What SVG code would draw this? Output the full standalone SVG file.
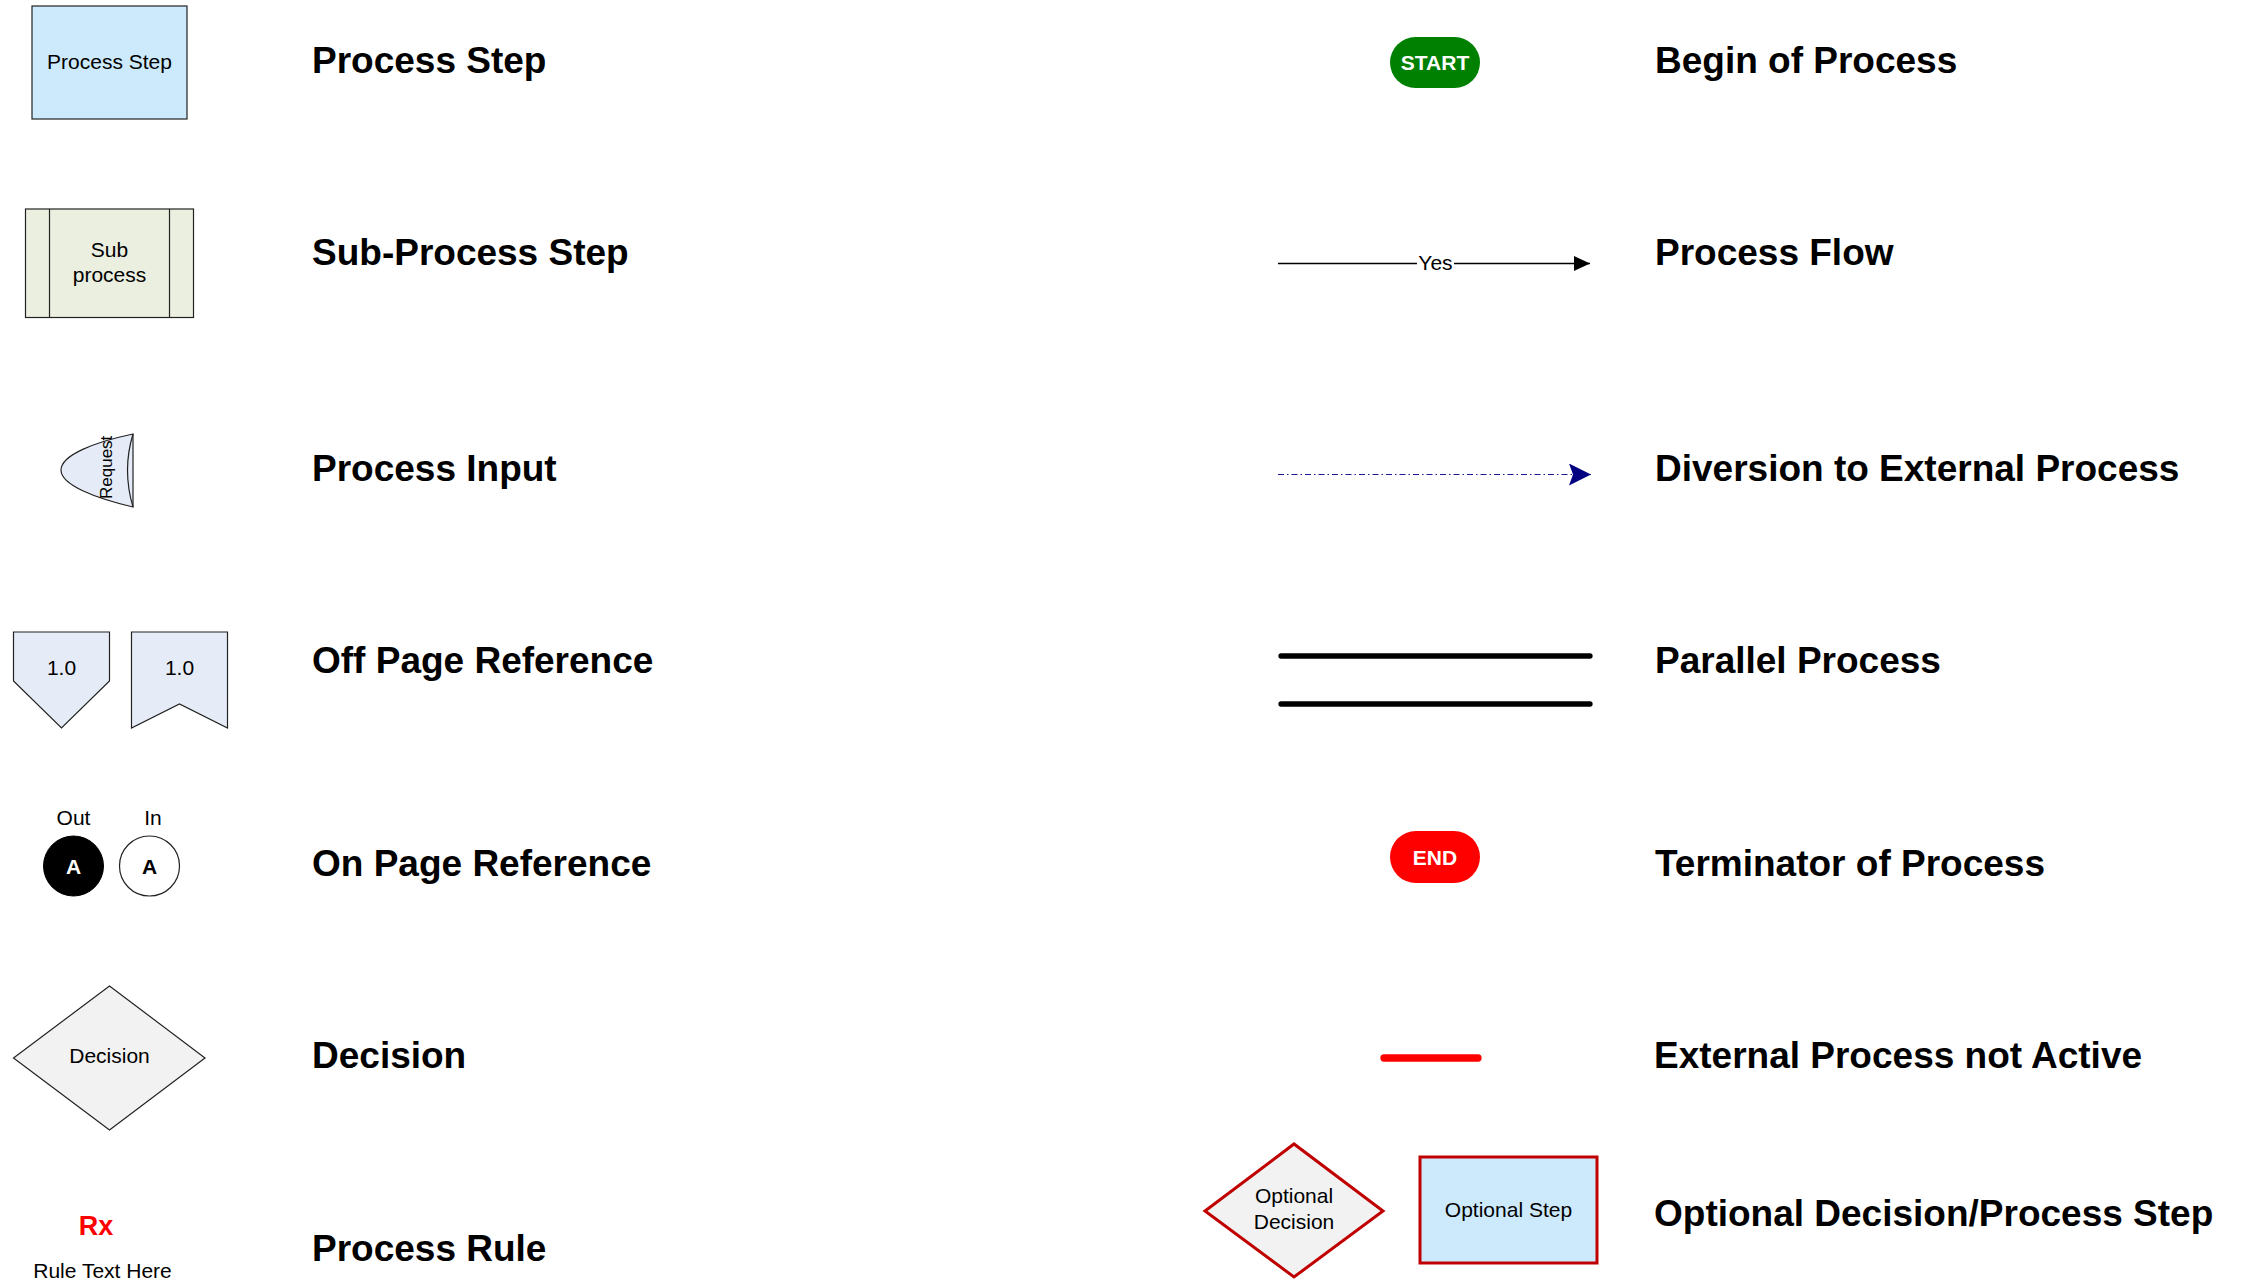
<svg xmlns="http://www.w3.org/2000/svg" width="2245" height="1280" viewBox="0 0 2245 1280">
<style>
  text { font-family: "Liberation Sans", Arial, sans-serif; fill: #000; }
  .h { font-size: 37px; font-weight: bold; }
  .s { font-size: 21px; text-anchor: middle; }
  .b { font-size: 21px; font-weight: bold; text-anchor: middle; }
  .w { fill: #fff; }
  .step { fill: #cdeafc; stroke: #222; stroke-width: 1.2; }
  .sub { fill: #ebefdf; stroke: #222; stroke-width: 1.2; }
  .ref { fill: #e6ecf7; stroke: #222; stroke-width: 1.2; }
  .dec { fill: #f2f2f2; stroke: #222; stroke-width: 1.2; }
  .opt { stroke: #c00000; stroke-width: 3; }
</style>
<defs>
  <marker id="arrBlack" viewBox="0 0 16 16" refX="16" refY="8" markerWidth="16" markerHeight="16" markerUnits="userSpaceOnUse" orient="auto">
    <path d="M0,0.5 L16,8 L0,15.5 Z" fill="#000"/>
  </marker>
  <marker id="arrNavy" viewBox="0 0 22 22" refX="22" refY="11" markerWidth="22" markerHeight="22" markerUnits="userSpaceOnUse" orient="auto">
    <path d="M0,0 L22,11 L0,22 L4,11 Z" fill="#000080"/>
  </marker>
  <clipPath id="reqClip">
    <rect x="61" y="434" width="72" height="73"/>
  </clipPath>
</defs>
<rect width="2245" height="1280" fill="#fff"/>

<g id="process-step">
  <rect class="step" x="32" y="6" width="155" height="113"/>
  <text class="s" x="109.5" y="69">Process Step</text>
</g>
<g id="sub-process">
  <rect class="sub" x="25.5" y="209" width="168" height="108.5"/>
  <line x1="49.5" y1="209" x2="49.5" y2="317.5" stroke="#222" stroke-width="1.2"/>
  <line x1="169.5" y1="209" x2="169.5" y2="317.5" stroke="#222" stroke-width="1.2"/>
  <text class="s" x="109.5" y="257">Sub</text>
  <text class="s" x="109.5" y="282">process</text>
</g>
<g id="process-input">
  <path class="ref" d="M133,434 C95,442 61,455 61,470 C61,485 95,498 133,507 Z"/>
  <path d="M133,434 Q122,470 133,507" fill="none" stroke="#222" stroke-width="1.2"/>
  <g clip-path="url(#reqClip)">
    <text x="111.5" y="499" font-size="17" transform="rotate(-90 111.5 499)">Request</text>
  </g>
</g>
<g id="off-page-out">
  <path class="ref" d="M13.5,632 L109.5,632 L109.5,681 L61.5,728 L13.5,681 Z"/>
  <text class="s" x="61.5" y="675">1.0</text>
</g>
<g id="off-page-in">
  <path class="ref" d="M131.5,632 L227.5,632 L227.5,728 L179.5,704 L131.5,728 Z"/>
  <text class="s" x="179.5" y="675">1.0</text>
</g>
<g id="on-page-out">
  <text class="s" x="73.5" y="825">Out</text>
  <circle cx="73.5" cy="866" r="30" fill="#000" stroke="#000"/>
  <text class="b w" x="73.5" y="873.5">A</text>
</g>
<g id="on-page-in">
  <text class="s" x="153" y="825">In</text>
  <circle cx="149.5" cy="866" r="30" fill="#fff" stroke="#222" stroke-width="1.2"/>
  <text class="b" x="149.5" y="873.5">A</text>
</g>
<g id="decision">
  <path class="dec" d="M13.5,1058 L109.5,986 L205,1058 L109.5,1130 Z"/>
  <text class="s" x="109.5" y="1063">Decision</text>
</g>
<g id="process-rule">
  <text x="96" y="1235" font-size="27" font-weight="bold" text-anchor="middle" style="fill:#ff0000">Rx</text>
  <text class="s" x="102.5" y="1278">Rule Text Here</text>
</g>

<g id="start">
  <rect x="1390" y="37" width="90" height="51" rx="25.5" fill="#008000"/>
  <text class="b w" x="1435" y="69.5">START</text>
</g>
<g id="end">
  <rect x="1390" y="831" width="90" height="52" rx="26" fill="#ff0000"/>
  <text class="b w" x="1435" y="864.5">END</text>
</g>
<g id="optional-decision">
  <path class="dec opt" d="M1205,1211 L1294,1144 L1383,1211 L1294,1277 Z"/>
  <text class="s" x="1294" y="1203">Optional</text>
  <text class="s" x="1294" y="1229">Decision</text>
</g>
<g id="optional-step">
  <rect class="step opt" x="1420" y="1157" width="177" height="106"/>
  <text class="s" x="1508.5" y="1217">Optional Step</text>
</g>

<g id="connectors">
  <line x1="1278" y1="263.5" x2="1590" y2="263.5" stroke="#000" stroke-width="1.6" marker-end="url(#arrBlack)"/>
  <rect x="1417" y="252" width="37" height="24" fill="#fff"/>
  <text class="s" x="1435.5" y="270">Yes</text>
  <line x1="1278" y1="474.5" x2="1591" y2="474.5" stroke="#1a1a99" stroke-width="1.2" stroke-dasharray="6,3,1.5,3" marker-end="url(#arrNavy)"/>
  <line x1="1281" y1="656" x2="1590" y2="656" stroke="#000" stroke-width="5.3" stroke-linecap="round"/>
  <line x1="1281" y1="704" x2="1590" y2="704" stroke="#000" stroke-width="5.3" stroke-linecap="round"/>
  <line x1="1384" y1="1058" x2="1478" y2="1058" stroke="#ff0000" stroke-width="7.3" stroke-linecap="round"/>
</g>

<g id="headings">
  <text class="h" x="312" y="73">Process Step</text>
  <text class="h" x="312" y="265">Sub-Process Step</text>
  <text class="h" x="312" y="481">Process Input</text>
  <text class="h" x="312" y="673">Off Page Reference</text>
  <text class="h" x="312" y="876">On Page Reference</text>
  <text class="h" x="312" y="1068">Decision</text>
  <text class="h" x="312" y="1261">Process Rule</text>
  <text class="h" x="1655" y="73">Begin of Process</text>
  <text class="h" x="1655" y="265">Process Flow</text>
  <text class="h" x="1655" y="481">Diversion to External Process</text>
  <text class="h" x="1655" y="673">Parallel Process</text>
  <text class="h" x="1655" y="876">Terminator of Process</text>
  <text class="h" x="1654" y="1068">External Process not Active</text>
  <text class="h" x="1654" y="1226">Optional Decision/Process Step</text>
</g>
</svg>
